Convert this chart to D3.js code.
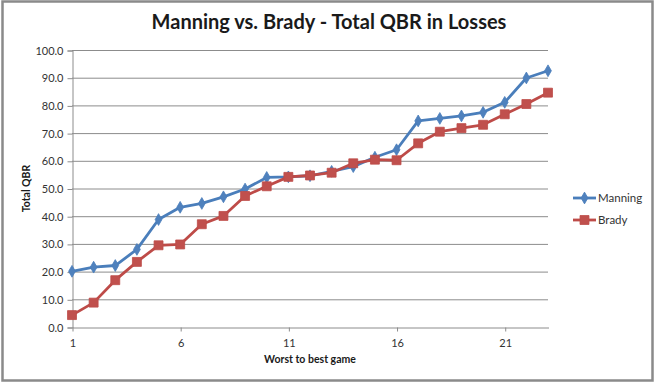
<!DOCTYPE html>
<html>
<head>
<meta charset="utf-8">
<script src="https://cdn.jsdelivr.net/npm/d3@7"></script>
<style>
  body { margin: 0; background: #fff; }
  svg { display: block; font-family: Lato, "Open Sans", sans-serif; }
</style>
</head>
<body>
<div id="chart"></div>
<script>
let width = 655
let height = 384

// game number, worst to best
const games = d3.range(1, 24)
const manning = [20.1, 21.6, 22.2, 28.0, 38.8, 43.2, 44.6, 47.0, 49.8, 54.0, 54.2, 54.6, 56.2, 57.9, 61.3, 64.0, 74.4, 75.3, 76.2, 77.5, 81.1, 89.9, 92.5]
const brady = [4.3, 8.8, 16.9, 23.5, 29.5, 29.8, 37.1, 40.1, 47.3, 50.8, 54.2, 54.7, 55.7, 59.1, 60.4, 60.2, 66.3, 70.5, 71.8, 73.0, 76.8, 80.5, 84.6]
const yTicks = [0, 10, 20, 30, 40, 50, 60, 70, 80, 90, 100]
const xTicks = [1, 6, 11, 16, 21]

let plotLeft = 72, plotRight = 548, plotTop = 50, plotBottom = 327

let svg = d3.select('#chart')
            .append('svg')
            .attr('width', width)
            .attr('height', height)

// outer frame
svg.append('rect')
    .attr('x', 2.5)
    .attr('y', 1.5)
    .attr('width', 650)
    .attr('height', 379)
    .attr('fill', 'white')
    .attr('stroke', '#8a8a8a')
    .attr('stroke-width', 2.5)

svg.append('text')
    .attr('x', 329)
    .attr('y', 29)
    .attr('text-anchor', 'middle')
    .style('font-size', '20px')
    .style('font-weight', 'bold')
    .attr('fill', '#1a1a1a')
    .text('Manning vs. Brady - Total QBR in Losses')

let xScale = d3.scaleLinear()
            .domain([1, 23])
            .range([plotLeft, plotRight])

let yScale = d3.scaleLinear()
            .domain([0, 100])
            .range([plotBottom, plotTop])

// gridlines
svg.append('g')
    .selectAll('line')
    .data(yTicks.slice(1))
    .enter()
    .append('line')
    .attr('x1', plotLeft)
    .attr('x2', plotRight)
    .attr('y1', d => yScale(d) + 0.5)
    .attr('y2', d => yScale(d) + 0.5)
    .attr('stroke', '#8c8c8c')
    .attr('stroke-width', 1)

let yAxis = svg.append('g')
    .attr('transform', 'translate(' + (plotLeft + 0.5) + ',0.5)')
    .call(d3.axisLeft(yScale).tickValues(yTicks).tickFormat(d3.format('.1f')).tickSize(5).tickPadding(4))
yAxis.select('.domain').attr('stroke', '#8c8c8c')
yAxis.selectAll('line').attr('stroke', '#8c8c8c')
yAxis.selectAll('text').style('font-size', '11px').attr('fill', '#333').attr('font-family', 'Lato, sans-serif')

let xAxis = svg.append('g')
    .attr('transform', 'translate(0.5,' + (plotBottom + 0.5) + ')')
    .call(d3.axisBottom(xScale).tickValues(xTicks).tickFormat(d => d).tickSize(4).tickSizeOuter(0).tickPadding(8))
xAxis.select('.domain').attr('stroke', '#8c8c8c')
xAxis.selectAll('line').attr('stroke', '#8c8c8c')
xAxis.selectAll('text').style('font-size', '11px').attr('fill', '#333').attr('font-family', 'Lato, sans-serif')

svg.append('text')
    .attr('x', 310)
    .attr('y', 363)
    .attr('text-anchor', 'middle')
    .style('font-size', '10.5px')
    .style('font-weight', 'bold')
    .attr('fill', '#1a1a1a')
    .text('Worst to best game')

svg.append('text')
    .attr('transform', 'translate(30,' + ((plotTop + plotBottom) / 2) + ') rotate(-90)')
    .attr('text-anchor', 'middle')
    .style('font-size', '10.5px')
    .style('font-weight', 'bold')
    .attr('fill', '#1a1a1a')
    .text('Total QBR')

let line = d3.line()
            .x((d, i) => xScale(games[i]))
            .y(d => yScale(d))

let series = [
    {name: 'Manning', values: manning, color: '#4a7ebb', fill: '#4f81bd', shape: d3.symbolDiamond, size: 40},
    {name: 'Brady', values: brady, color: '#be4b48', fill: '#c0504d', shape: d3.symbolSquare, size: 80}
]

series.forEach(s => {
    svg.append('path')
        .datum(s.values)
        .attr('d', line)
        .attr('fill', 'none')
        .attr('stroke', s.color)
        .attr('stroke-width', 2.8)
        .attr('stroke-linejoin', 'round')

    svg.append('g')
        .selectAll('path')
        .data(s.values)
        .enter()
        .append('path')
        .attr('transform', (d, i) => 'translate(' + xScale(games[i]) + ',' + yScale(d) + ')')
        .attr('d', d3.symbol().type(s.shape).size(s.size))
        .attr('fill', s.fill)
        .attr('stroke', s.color)
        .attr('stroke-width', 0.8)
})

// legend
let legend = svg.append('g')
series.forEach((s, i) => {
    let ly = 198 + i * 22
    legend.append('line')
        .attr('x1', 573)
        .attr('x2', 596)
        .attr('y1', ly)
        .attr('y2', ly)
        .attr('stroke', s.color)
        .attr('stroke-width', 2.8)
    legend.append('path')
        .attr('transform', 'translate(584.5,' + ly + ')')
        .attr('d', d3.symbol().type(s.shape).size(s.size))
        .attr('fill', s.fill)
        .attr('stroke', s.color)
        .attr('stroke-width', 0.8)
    legend.append('text')
        .attr('x', 598)
        .attr('y', ly + 4)
        .style('font-size', '11.5px')
        .attr('fill', '#333')
        .text(s.name)
})
</script>
</body>
</html>
